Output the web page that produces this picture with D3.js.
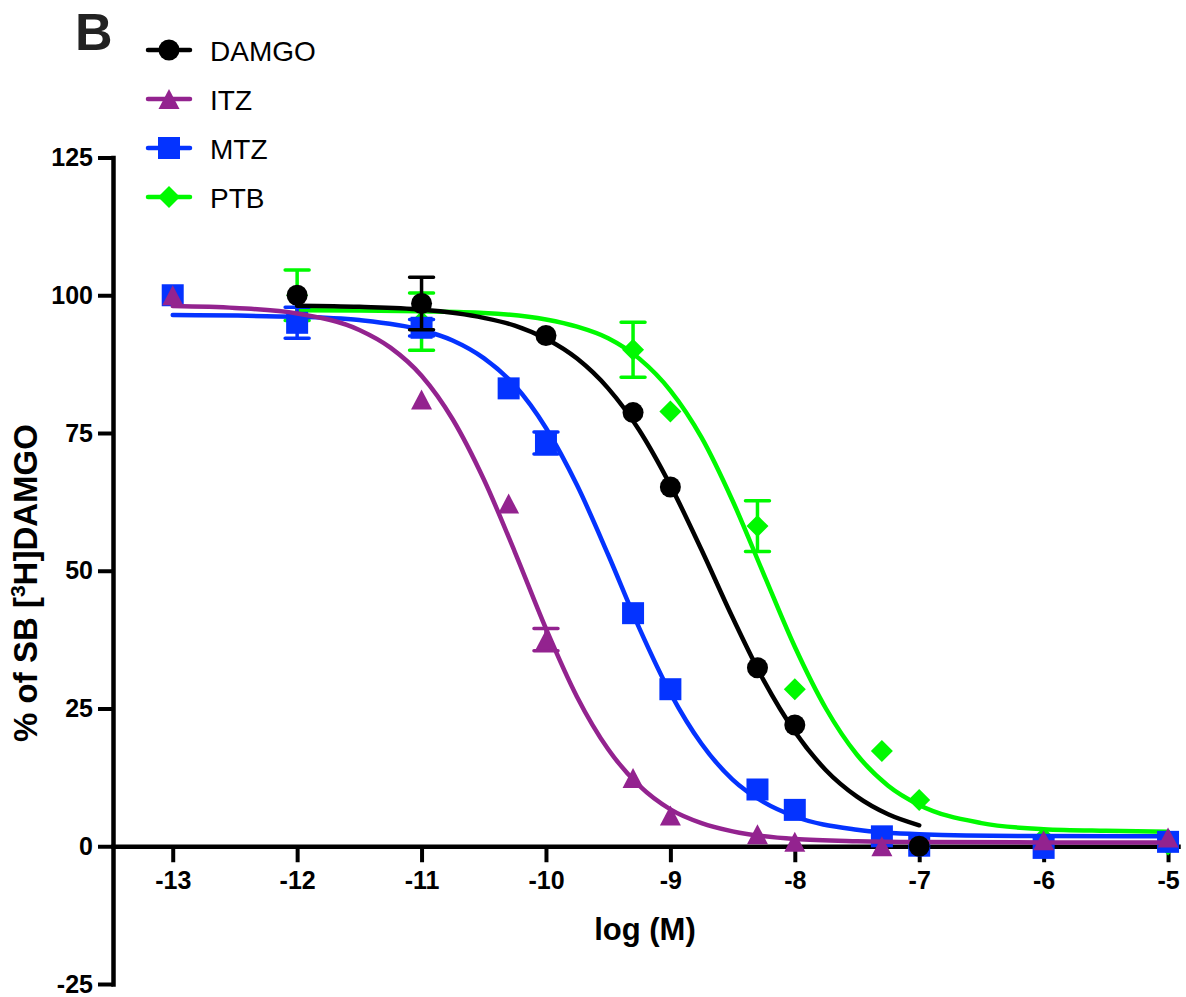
<!DOCTYPE html>
<html>
<head>
<meta charset="utf-8">
<script src="https://cdn.jsdelivr.net/npm/d3@7"></script>
<style>
  body { margin: 0; background: #fff; }
  text { font-family: "Liberation Sans", Arial, sans-serif; }
</style>
</head>
<body>
<svg id="canvas" width="1186" height="997"></svg>
<script>
const seriesNames = ["DAMGO", "ITZ", "MTZ", "PTB"];
const seriesColors = ["#000000", "#93238f", "#0433ff", "#00f900"];
const seriesSymbols = ["circle", "triangle", "square", "diamond"];

const xTicks = [-13, -12, -11, -10, -9, -8, -7, -6, -5];
const yTicks = [-25, 0, 25, 50, 75, 100, 125];

// measured points (log M, % of specific binding, SEM)
const damgoLogM = [-12, -11, -10, -9.3, -9, -8.3, -8, -7];
const damgoValue = [100, 98.5, 92.7, 78.7, 65.2, 32.4, 22, 0];
const damgoSem = [0, 4.75, 0, 0, 0, 0, 0, 0];

const itzLogM = [-13, -11, -10.3, -10, -9.3, -9, -8.3, -8, -7.3, -6, -5];
const itzValue = [100, 81.1, 62.2, 37.5, 12.4, 5.6, 2.2, 0.8, 0, 1.1, 1.6];
const itzSem = [0, 0, 0, 2, 0, 0, 0, 0, 0, 0, 0];

const mtzLogM = [-13, -12, -11, -10.3, -10, -9.3, -9, -8.3, -8, -7.3, -7, -6, -5];
const mtzValue = [100, 95, 94.1, 83.1, 73.2, 42.3, 28.5, 10.3, 6.6, 1.8, 0.1, -0.3, 0.8];
const mtzSem = [0, 2.8, 1.5, 0, 2, 0, 0, 0, 0, 0, 0, 0, 0];

const ptbLogM = [-12, -11, -9.3, -9, -8.3, -8, -7.3, -7, -6, -5];
const ptbValue = [100, 95.2, 90.1, 78.9, 58.1, 28.5, 17.3, 8.4, 1.5, 0.3];
const ptbSem = [4.6, 5.2, 5, 0, 4.6, 0, 0, 0, 0, 0];

// fitted curves
const damgoFitLogM = [-12, -11.5, -11, -10.5, -10.25, -10, -9.75, -9.5, -9.25, -9, -8.75, -8.5, -8.25, -8, -7.75, -7.5, -7.25, -7];
const damgoFitValue = [98.1, 97.9, 97.4, 95.9, 94.5, 92.1, 88.5, 83.1, 75.5, 65.5, 53.8, 41.5, 30.1, 20.8, 13.8, 9.0, 5.8, 3.8];

const itzFitLogM = [-13, -12.5, -12, -11.5, -11.25, -11, -10.75, -10.5, -10.25, -10, -9.75, -9.5, -9.25, -9, -8.75, -8.5, -8, -7.5, -7, -6, -5];
const itzFitValue = [98.05, 97.7, 96.7, 93.7, 90.5, 85.4, 77.5, 66.6, 53.4, 39.5, 27.1, 17.6, 11.0, 6.7, 4.2, 2.7, 1.3, 0.9, 0.76, 0.7, 0.7];

const mtzFitLogM = [-13, -12, -11.5, -11, -10.75, -10.5, -10.25, -10, -9.75, -9.5, -9.25, -9, -8.75, -8.5, -8.25, -8, -7.5, -7, -6, -5];
const mtzFitValue = [96.4, 96.1, 95.5, 93.7, 91.8, 88.6, 83.6, 75.9, 65.5, 52.9, 39.6, 27.8, 18.6, 12.1, 8.0, 5.4, 3.0, 2.2, 1.84, 1.8];

const ptbFitLogM = [-12, -11.5, -11, -10.5, -10, -9.75, -9.5, -9.25, -9, -8.75, -8.5, -8.25, -8, -7.75, -7.5, -7.25, -7, -6.5, -6, -5.5, -5];
const ptbFitValue = [97.3, 97.25, 97.1, 96.8, 95.6, 94.3, 92.2, 88.5, 82.7, 74.2, 62.7, 49.4, 36.2, 25.0, 16.6, 11.0, 7.5, 4.2, 3.1, 2.8, 2.65];

const zip = (xs, ys, es) => xs.map((x, i) => ({ x: x, y: ys[i], e: es ? es[i] : 0 }));

const series = [
  { points: zip(damgoLogM, damgoValue, damgoSem), fit: zip(damgoFitLogM, damgoFitValue) },
  { points: zip(itzLogM, itzValue, itzSem), fit: zip(itzFitLogM, itzFitValue) },
  { points: zip(mtzLogM, mtzValue, mtzSem), fit: zip(mtzFitLogM, mtzFitValue) },
  { points: zip(ptbLogM, ptbValue, ptbSem), fit: zip(ptbFitLogM, ptbFitValue) }
].map((s, i) => {
  s.name = seriesNames[i];
  s.color = seriesColors[i];
  s.symbol = seriesSymbols[i];
  return s;
});

const canvas = d3.select("#canvas");

const x = d3.scaleLinear().domain([-13.48, -4.92]).range([113, 1178]);
const y = d3.scaleLinear().domain([-25, 125]).range([984, 157.5]);

const symbolPath = (type) => {
  if (type === "circle") {
    return "M-10.5,0A10.5,10.5 0 1,0 10.5,0A10.5,10.5 0 1,0 -10.5,0Z";
  } else if (type === "triangle") {
    return "M0,-10L10.5,10L-10.5,10Z";
  } else if (type === "square") {
    return "M-11,-11H11V11H-11Z";
  } else {
    return "M0,-11L11,0L0,11L-11,0Z";
  }
};

// axes (plain hyphen for negatives, as in the original)
const xAxis = canvas
  .append("g")
  .attr("transform", "translate(0," + y(0) + ")")
  .call(
    d3.axisBottom(x)
      .tickValues(xTicks)
      .tickFormat((d) => String(d))
      .tickSize(16)
      .tickSizeOuter(0)
      .tickPadding(9)
  );

const yAxis = canvas
  .append("g")
  .attr("transform", "translate(" + x.range()[0] + ",0)")
  .call(
    d3.axisLeft(y)
      .tickValues(yTicks)
      .tickFormat((d) => String(d))
      .tickSize(15)
      .tickSizeOuter(0)
      .tickPadding(5)
  );

[xAxis, yAxis].forEach((axis) => {
  axis.select(".domain").attr("stroke-width", 4.5).attr("stroke-linecap", "square");
  axis.selectAll(".tick line").attr("stroke-width", 4);
  axis
    .selectAll(".tick text")
    .attr("font-size", 25)
    .attr("font-weight", "bold")
    .attr("fill", "#000")
    .style("font-family", '"Liberation Sans", Arial, sans-serif');
});

// series, drawn so that DAMGO ends up on top
const plot = canvas.append("g");

series
  .slice()
  .reverse()
  .forEach((s) => {
    const g = plot.append("g");

    const line = d3
      .line()
      .x((d) => x(d.x))
      .y((d) => y(d.y))
      .curve(d3.curveMonotoneX);

    g.append("path")
      .attr("d", line(s.fit))
      .attr("fill", "none")
      .attr("stroke", s.color)
      .attr("stroke-width", 4.5)
      .attr("stroke-linecap", "round");

    g.selectAll(".err")
      .data(s.points.filter((d) => d.e > 0))
      .enter()
      .append("path")
      .attr("class", "err")
      .attr("d", (d) => {
        const cx = x(d.x);
        const top = y(d.y + d.e);
        const bottom = y(d.y - d.e);
        return (
          "M" + (cx - 12) + "," + top + "H" + (cx + 12) +
          "M" + cx + "," + top + "V" + bottom +
          "M" + (cx - 12) + "," + bottom + "H" + (cx + 12)
        );
      })
      .attr("fill", "none")
      .attr("stroke", s.color)
      .attr("stroke-width", 3.5)
      .attr("stroke-linecap", "round");

    g.selectAll(".pt")
      .data(s.points)
      .enter()
      .append("path")
      .attr("class", "pt")
      .attr("transform", (d) => "translate(" + x(d.x) + "," + y(d.y) + ")")
      .attr("d", symbolPath(s.symbol))
      .attr("fill", s.color);
  });

// legend
const legend = canvas
  .selectAll(".legend")
  .data(series)
  .enter()
  .append("g")
  .attr("class", "legend")
  .attr("transform", (s, i) => "translate(169," + (50 + i * 49) + ")");

legend
  .append("line")
  .attr("x1", -21)
  .attr("x2", 21)
  .attr("stroke", (s) => s.color)
  .attr("stroke-width", 4.5)
  .attr("stroke-linecap", "round");

legend
  .append("path")
  .attr("d", (s) => symbolPath(s.symbol))
  .attr("fill", (s) => s.color);

legend
  .append("text")
  .attr("x", 41)
  .attr("y", 10.5)
  .attr("font-size", 28)
  .attr("fill", "#000")
  .text((s) => s.name);

// panel letter
canvas
  .append("text")
  .attr("x", 75)
  .attr("y", 50)
  .attr("font-size", 52)
  .attr("font-weight", "bold")
  .attr("fill", "#222")
  .text("B");

// axis titles
canvas
  .append("text")
  .attr("x", 645)
  .attr("y", 940)
  .attr("text-anchor", "middle")
  .attr("font-size", 31)
  .attr("font-weight", "bold")
  .text("log (M)");

const yTitle = canvas
  .append("text")
  .attr("transform", "translate(37,583) rotate(-90)")
  .attr("text-anchor", "middle")
  .attr("font-size", 33)
  .attr("font-weight", "bold");

yTitle.append("tspan").text("% of SB [");
yTitle.append("tspan").attr("font-size", 21).attr("dy", -12).text("3");
yTitle.append("tspan").attr("dy", 12).text("H]DAMGO");
</script>
</body>
</html>
